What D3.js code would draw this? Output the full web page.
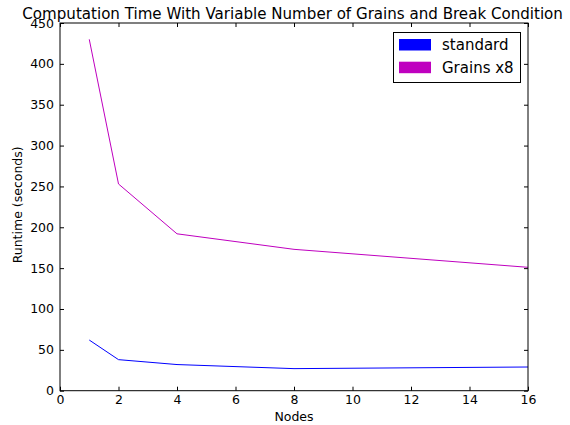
<!DOCTYPE html>
<html><head><meta charset="utf-8">
<script src="https://cdn.jsdelivr.net/npm/d3@7"></script>
<style>body{margin:0;background:#fff}svg{display:block;font-family:"DejaVu Sans",sans-serif}</style>
</head><body><svg id="c" width="570" height="425"></svg>
<script>
const nodes = [1, 2, 4, 8, 16];
const standard = [62, 38, 32, 27, 29];
const grainsX8 = [430, 253, 192, 173, 151];
const xTicks = [0, 2, 4, 6, 8, 10, 12, 14, 16];
const yTicks = [0, 50, 100, 150, 200, 250, 300, 350, 400, 450];
const seriesNames = ["standard", "Grains x8"];
const seriesColors = ["#0000ff", "#bf00bf"];

const svg = d3.select("#c");
const L = 60, R = 528, T = 23, B = 390.7;
const x = d3.scaleLinear().domain([0, 16]).range([L, R]);
const y = d3.scaleLinear().domain([0, 450]).range([B, T]);

const series = [standard, grainsX8];
const line = d3.line().x((d, i) => x(nodes[i])).y(d => y(d));
series.forEach((s, k) => {
  svg.append("path").datum(s).attr("d", line)
    .attr("fill", "none").attr("stroke", seriesColors[k]).attr("stroke-width", 1);
});

const tl = 4;
const gx = svg.append("g").attr("transform", `translate(0,${B})`)
  .call(d3.axisBottom(x).tickValues(xTicks).tickSize(-tl).tickPadding(4.5).tickFormat(d3.format("d")));
const gxt = svg.append("g").attr("transform", `translate(0,${T})`)
  .call(d3.axisTop(x).tickValues(xTicks).tickSize(-tl).tickFormat(""));
const gy = svg.append("g").attr("transform", `translate(${L},0)`)
  .call(d3.axisLeft(y).tickValues(yTicks).tickSize(-tl).tickPadding(6).tickFormat(d3.format("d")));
const gyr = svg.append("g").attr("transform", `translate(${R},0)`)
  .call(d3.axisRight(y).tickValues(yTicks).tickSize(-tl).tickFormat(""));
[gx, gxt, gy, gyr].forEach(g => {
  g.select(".domain").remove();
  g.selectAll(".tick line").attr("stroke", "#000");
  g.selectAll("text").attr("font-size", 12.5).attr("fill", "#000").attr("font-family", "DejaVu Sans");
});
svg.append("rect").attr("x", L).attr("y", T).attr("width", R - L).attr("height", B - T)
  .attr("fill", "none").attr("stroke", "#000").attr("stroke-width", 1);

// title, fitted to the reference's width
const title = svg.append("text").attr("x", 292.6).attr("y", 18.5).attr("text-anchor", "middle")
  .attr("font-size", 15).text("Computation Time With Variable Number of Grains and Break Condition");
const w = title.node().getComputedTextLength();
if (w > 0) title.attr("font-size", 15 * 541 / w);

svg.append("text").attr("x", (L + R) / 2).attr("y", 421).attr("text-anchor", "middle")
  .attr("font-size", 12.5).text("Nodes");
svg.append("text").attr("transform", `translate(21.5,${(T + B) / 2 - 2}) rotate(-90)`).attr("text-anchor", "middle")
  .attr("font-size", 12.5).text("Runtime (seconds)");

// legend
const lg = svg.append("g");
lg.append("rect").attr("x", 393.5).attr("y", 32.5).attr("width", 127).attr("height", 50)
  .attr("fill", "#fff").attr("stroke", "#000").attr("stroke-width", 1);
seriesNames.forEach((n, i) => {
  const yy = 39 + i * 22.7;
  lg.append("rect").attr("x", 399).attr("y", yy).attr("width", 32).attr("height", 11.5)
    .attr("fill", seriesColors[i]);
  lg.append("text").attr("x", 442).attr("y", yy + 11).attr("font-size", 15).text(n);
});
</script></body></html>
